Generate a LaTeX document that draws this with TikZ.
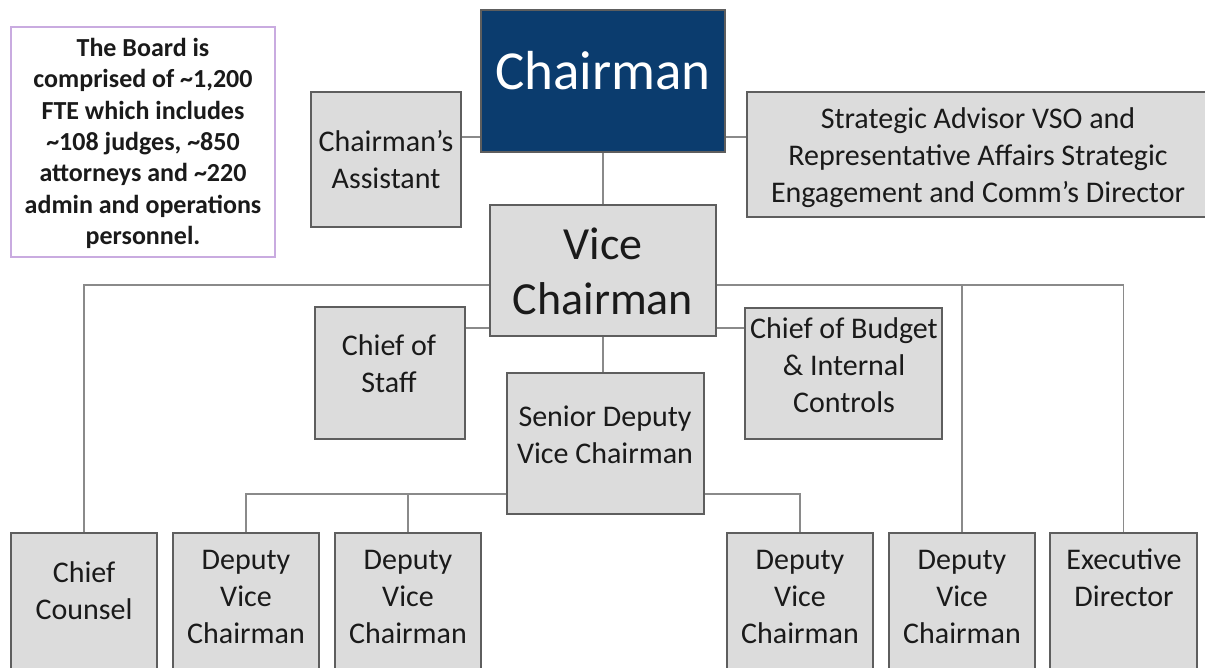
\documentclass[tikz,border=0pt]{standalone}
\usepackage{fontspec}
\setmainfont{Carlito}
\usetikzlibrary{backgrounds}
\pgfdeclarelayer{paper}
\pgfsetlayers{paper,background,main}
\definecolor{navy}{HTML}{0B3C6E}
\definecolor{boxgray}{HTML}{DCDCDC}
\definecolor{edgegray}{HTML}{5E5E5E}
\definecolor{linegray}{HTML}{8A8A8A}
\definecolor{notepurple}{HTML}{C9ABE0}
\definecolor{ink}{HTML}{1A1A1A}
\tikzset{
  box/.style={draw=edgegray, line width=1.6pt, fill=boxgray, rectangle, inner sep=0pt, outer sep=0pt},
  navybox/.style={box, fill=navy},
  notebox/.style={draw=notepurple, line width=1.4pt, fill=white, rectangle, inner sep=0pt, outer sep=0pt},
  conn/.style={draw=linegray, line width=1.3pt},
  txt/.style={font=\fontsize{30}{37}\selectfont, align=center, inner sep=0pt, text=ink},
  bigtxt/.style={font=\fontsize{46}{55}\selectfont, align=center, inner sep=0pt, text=ink},
  chairtxt/.style={font=\fontsize{55}{60}\selectfont, align=center, inner sep=0pt, text=white},
  notetxt/.style={font=\bfseries\fontsize{26}{31.3}\selectfont, align=center, inner sep=0pt, text=ink},
}
\begin{document}
\begin{tikzpicture}[x=1pt, y=-1pt]
\useasboundingbox (0,0) rectangle (1205,668);
\begin{pgfonlayer}{paper}
\fill[white] (0,0) rectangle (1205,668);
\end{pgfonlayer}
\clip (0,0) rectangle (1205,668);

% boxes
\node[notebox, minimum width=264pt, minimum height=230pt] (note) at (143,142) {};
\node[navybox, minimum width=244pt, minimum height=142pt] (chair) at (603,81) {};
\node[box, minimum width=150pt, minimum height=135pt] (asst) at (386,159.5) {};
\node[box, minimum width=468pt, minimum height=125pt] (strat) at (981,154.5) {};
\node[box, minimum width=226pt, minimum height=131pt] (vc) at (603,270.5) {};
\node[box, minimum width=150pt, minimum height=132pt] (cos) at (390,373) {};
\node[box, minimum width=197pt, minimum height=131pt] (cob) at (843.5,373.5) {};
\node[box, minimum width=197pt, minimum height=141pt] (sdvc) at (605.5,443.5) {};
\node[box, minimum width=146pt, minimum height=157pt] (cc) at (84,611.5) {};
\node[box, minimum width=146pt, minimum height=157pt] (dvc1) at (246,611.5) {};
\node[box, minimum width=146pt, minimum height=157pt] (dvc2) at (408,611.5) {};
\node[box, minimum width=146pt, minimum height=157pt] (dvc3) at (800,611.5) {};
\node[box, minimum width=146pt, minimum height=157pt] (dvc4) at (962,611.5) {};
\node[box, minimum width=147pt, minimum height=157pt] (exec) at (1123.5,611.5) {};

% bus coordinates
\coordinate (topy) at (0,137);
\coordinate (sidey) at (0,328);
\coordinate (bus) at (0,285);
\coordinate (bus2) at (0,494);

% connectors
\begin{pgfonlayer}{background}
\draw[conn] (asst.east |- topy) -- (chair.west |- topy);
\draw[conn] (chair.east |- topy) -- (strat.west |- topy);
\draw[conn] (chair.south) -- (chair.south |- vc.north);
\draw[conn] (vc.west |- bus) -| (cc.north);
\draw[conn] (vc.east |- bus) -| (exec.north);
\draw[conn] (dvc4.north) -- (dvc4.north |- bus);
\draw[conn] (cos.east |- sidey) -- (vc.west |- sidey);
\draw[conn] (vc.east |- sidey) -- (cob.west |- sidey);
\draw[conn] (vc.south) -- (vc.south |- sdvc.north);
\draw[conn] (sdvc.west |- bus2) -| (dvc1.north);
\draw[conn] (dvc2.north) -- (dvc2.north |- bus2);
\draw[conn] (sdvc.east |- bus2) -| (dvc3.north);
\end{pgfonlayer}

% texts
\node[notetxt] (notet) at (143,143.5) {The Board is\\comprised of \textasciitilde1,200\\FTE which includes\\\textasciitilde108 judges, \textasciitilde850\\attorneys and \textasciitilde220\\admin and operations\\personnel.};
\node[chairtxt] (chairt) at (603,71) {Chairman};
\node[txt] (asstt) at (386,160) {Chairman’s\\Assistant};
\node[txt] (stratt) at (978,158) {Strategic Advisor VSO and\\Representative Affairs Strategic\\Engagement and Comm’s Director};
\node[bigtxt] (vct) at (603,271.5) {Vice\\Chairman};
\node[txt] (cost) at (389,363.5) {Chief of\\Staff};
\node[txt] (cobt) at (844,365) {Chief of Budget\\\& Internal\\Controls};
\node[txt] (sdvct) at (605,434.5) {Senior Deputy\\Vice Chairman};
\node[txt] (cct) at (84,591) {Chief\\Counsel};
\node[txt] (dvc1t) at (246,597) {Deputy\\Vice\\Chairman};
\node[txt] (dvc2t) at (408,597) {Deputy\\Vice\\Chairman};
\node[txt] (dvc3t) at (800,597) {Deputy\\Vice\\Chairman};
\node[txt] (dvc4t) at (962,597) {Deputy\\Vice\\Chairman};
\node[txt] (exect) at (1124,577.5) {Executive\\Director};
\end{tikzpicture}
\end{document}
